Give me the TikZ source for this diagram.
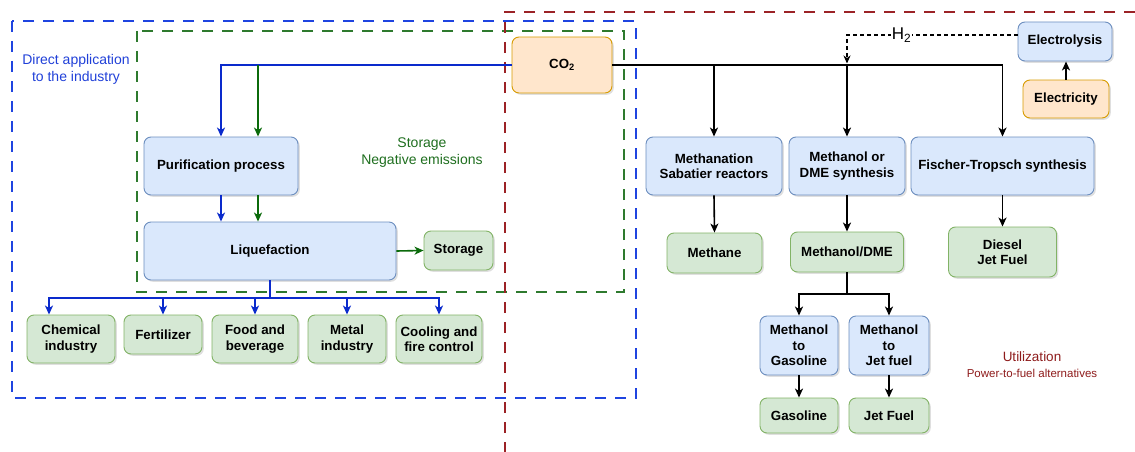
\documentclass[tikz,border=0pt]{standalone}
\usepackage{fontspec}
\setmainfont{Liberation Sans}
\usetikzlibrary{arrows.meta,shadows,calc}
\definecolor{bfill}{HTML}{DAE8FC}\definecolor{bline}{HTML}{6C8EBF}
\definecolor{gfill}{HTML}{D5E8D4}\definecolor{gline}{HTML}{82B366}
\definecolor{ofill}{HTML}{FFE6CC}\definecolor{oline}{HTML}{D79B00}
\definecolor{arrblue}{HTML}{0A2ACC}\definecolor{arrgreen}{HTML}{0B6A0B}
\definecolor{dashblue}{HTML}{1F44E0}\definecolor{dashgreen}{HTML}{2E7A2E}
\definecolor{dashred}{HTML}{9B2226}\definecolor{txtred}{HTML}{8E1B1B}
\definecolor{txtblue}{HTML}{2040D8}\definecolor{txtgreen}{HTML}{1E6E1E}
\begin{document}
\begin{tikzpicture}[x=1pt,y=-1pt,
  box/.style={rounded corners=7pt,line width=0.9pt,inner sep=0pt,align=center,
    font=\fontsize{13.3}{15.5}\selectfont\bfseries,
    drop shadow={opacity=0.25,shadow xshift=1.8pt,shadow yshift=-1.8pt}},
  bbox/.style={box,fill=bfill,draw=bline},
  gbox/.style={box,fill=gfill,draw=gline},
  obox/.style={box,fill=ofill,draw=oline},
  tip/.style={-{Stealth[length=9pt,width=8pt,inset=2.5pt]}},
  barr/.style={tip,line width=1.6pt,draw=arrblue},
  garr/.style={tip,line width=1.6pt,draw=arrgreen},
  karr/.style={tip,line width=1.6pt,draw=black},
  region/.style={line width=1.6pt,dash pattern=on 11pt off 9pt},
  lbl/.style={align=center,inner sep=0pt}]
\useasboundingbox (0,0) rectangle (1135,452);
% regions
\draw[region,draw=dashblue] (12,21) rectangle (636,398);
\draw[region,draw=dashgreen] (137,31) rectangle (624,292);
\draw[region,draw=dashred] (1135,12) -- (505,12) -- (505,452);
% nodes
\node[obox,minimum width=100,minimum height=56] (co2) at (562,65) {CO\textsubscript{2}};
\node[bbox,minimum width=94,minimum height=39] (elys) at (1065,41.5) {Electrolysis};
\node[obox,minimum width=86,minimum height=38] (elec) at (1066,99) {Electricity};
\node[bbox,minimum width=154,minimum height=58] (pur) at (221,166) {Purification process};
\node[bbox,minimum width=252,minimum height=58] (liq) at (270,251) {Liquefaction};
\node[gbox,minimum width=69,minimum height=39] (stor) at (458.5,250.5) {Storage};
\node[gbox,minimum width=88,minimum height=48] (chem) at (71,339) {Chemical\\industry};
\node[gbox,minimum width=78,minimum height=39] (fert) at (163,334.5) {Fertilizer};
\node[gbox,minimum width=86,minimum height=48] (food) at (255,339) {Food and\\beverage};
\node[gbox,minimum width=78,minimum height=48] (metal) at (347,339) {Metal\\industry};
\node[gbox,minimum width=86,minimum height=48] (cool) at (439,339) {Cooling and\\fire control};
\node[bbox,minimum width=136,minimum height=58] (mtn) at (714,166) {Methanation\\Sabatier reactors};
\node[bbox,minimum width=116,minimum height=58] (msyn) at (847,166) {Methanol or\\DME synthesis};
\node[bbox,minimum width=183,minimum height=58] (ft) at (1002.5,166) {Fischer-Tropsch synthesis};
\node[gbox,minimum width=95,minimum height=40] (methane) at (714.5,253) {Methane};
\node[gbox,minimum width=113,minimum height=40] (mdme) at (847,252) {Methanol/DME};
\node[gbox,minimum width=108,minimum height=50] (diesel) at (1002.5,252) {Diesel\\Jet Fuel};
\node[bbox,minimum width=78,minimum height=59] (mtg) at (799,345.5) {Methanol\\to\\Gasoline};
\node[bbox,minimum width=80,minimum height=59] (mtj) at (889,345.5) {Methanol\\to\\Jet fuel};
\node[gbox,minimum width=78,minimum height=35] (gas) at (799,415.5) {Gasoline};
\node[gbox,minimum width=80,minimum height=35] (jet) at (889,415.5) {Jet Fuel};
% labels
\node[lbl,text=txtblue,font=\fontsize{14}{17}\selectfont] (ldirect) at (76,69.5) {Direct application\\to the industry};
\node[lbl,text=txtgreen,font=\fontsize{14}{17}\selectfont] (lstore) at (422,152.5) {Storage\\Negative emissions};
\node[lbl,text=txtred,font=\fontsize{13.5}{16}\selectfont] (lutil) at (1032,357) {Utilization};
\node[lbl,text=txtred,font=\fontsize{11.5}{13}\selectfont] (lp2f) at (1032,373) {Power-to-fuel alternatives};
% helper coordinates
\coordinate (gx) at (258,0);
\coordinate (bus) at (0,298);
\coordinate (mbus) at (0,294);
% CO2 to left
\draw[barr] (co2.west) -| (pur.north);
\draw[garr] (co2.west -| gx) -- (pur.north -| gx);
\draw[barr] (pur.south) -- (pur.south |- liq.north);
\draw[garr] (pur.south -| gx) -- (liq.north -| gx);
\draw[garr] (liq.east) -- (stor.west);
\draw[barr] (liq.south) -- (liq.south |- bus) -| ([xshift=-22pt]chem.north);
\draw[barr] (liq.south |- bus) -| (fert.north);
\draw[barr] (liq.south |- bus) -| (food.north);
\draw[barr] (liq.south |- bus) -| (metal.north);
\draw[barr] (liq.south |- bus) -| (cool.north);
% CO2 to right
\draw[karr] (co2.east) -| (ft.north);
\draw[karr] (co2.east -| mtn.north) -- (mtn.north);
\draw[karr] (co2.east -| msyn.north) -- (msyn.north);
\draw[line width=1.3pt,dash pattern=on 4pt off 3pt,-{Stealth[length=8pt,width=7pt,inset=2.5pt]}]
  ([yshift=6.5pt]elys.west) -- ([yshift=6.5pt]elys.west -| msyn.north)
  node[pos=0.68,fill=white,inner sep=1pt,font=\fontsize{17}{17}\selectfont] (h2) {H\textsubscript{2}}
  -- ([yshift=1.5pt]co2.east -| msyn.north);
\draw[karr] (elec.north) -- (elec.north |- elys.south);
\draw[karr] (mtn.south) -- (methane.north);
\draw[karr] (msyn.south) -- (mdme.north);
\draw[karr] (ft.south) -- (ft.south |- diesel.north);
\draw[karr] (mdme.south) -- (mdme.south |- mbus) -| (mtg.north);
\draw[karr] (mdme.south |- mbus) -| (mtj.north);
\draw[karr] (mtg.south) -- (gas.north);
\draw[karr] (mtj.south) -- (jet.north);
\end{tikzpicture}
\end{document}
